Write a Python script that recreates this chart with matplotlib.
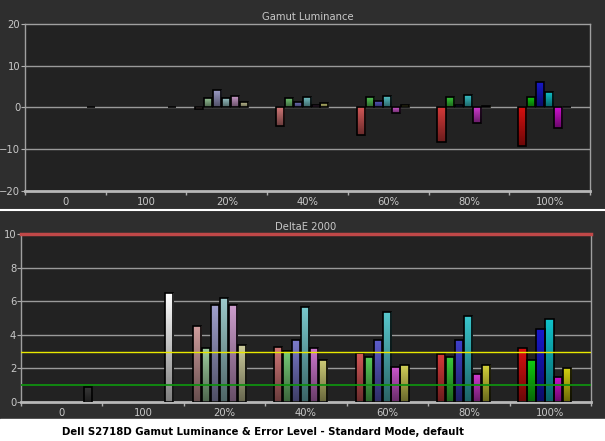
import numpy as np
import matplotlib
matplotlib.use('Agg')
import matplotlib.pyplot as plt
import matplotlib.colors as mcolors
from matplotlib.ticker import FixedLocator, NullFormatter

# Données
categories = ['0', '100', '20%', '40%', '60%', '80%', '100%']
levels = ['20%', '40%', '60%', '80%', '100%']
single_lum = [0.15, 0.1]          # 0 et 100 (noir, blanc)
lum_20 = [-0.4, 2.3, 4.1, 2.2, 2.8, 1.4]
lum_40 = [-4.4, 2.2, 1.4, 2.6, 0.7, 1.0]
lum_60 = [-6.5, 2.4, 1.6, 2.8, -1.4, 0.7]
lum_80 = [-8.2, 2.6, 0.6, 3.0, -3.6, 0.4]
lum_100 = [-9.2, 2.6, 6.0, 3.7, -4.8, 0.0]

single_de = [0.9, 6.5]
de_20 = [4.5, 3.2, 5.8, 6.2, 5.8, 3.4]
de_40 = [3.3, 3.05, 3.7, 5.65, 3.2, 2.5]
de_60 = [2.9, 2.7, 3.7, 5.35, 2.1, 2.2]
de_80 = [2.85, 2.7, 3.7, 5.1, 1.65, 2.2]
de_100 = [3.2, 2.5, 4.35, 4.95, 1.5, 2.0]

lum = [lum_20, lum_40, lum_60, lum_80, lum_100]
de = [de_20, de_40, de_60, de_80, de_100]

# couleurs
base = ['#d81010', '#10cc10', '#1818cc', '#10c4cc', '#d010d0', '#d4d010']
sat = [0.25, 0.45, 0.62, 0.78, 1.0]
grey = np.array([0.8, 0.8, 0.8])


def tint(c, s):
    rgb = np.array(mcolors.to_rgb(c))
    return tuple(rgb * s + grey * (1 - s))


single_colors = ['#3a3a3a', '#ffffff']

fig_bg = '#2e2e2e'
ax_bg = '#222222'
txt = '#c8c8c8'
grid_c = '#9a9a9a'

fig = plt.figure(figsize=(6.05, 4.41), dpi=100, facecolor=fig_bg)
ax1 = fig.add_axes([0.0413, 0.5669, 0.9339, 0.3787])
ax2 = fig.add_axes([0.0347, 0.0884, 0.9421, 0.381])

offsets = [0.16 + 0.11 * i for i in range(6)]
single_off = 0.82
bw = 0.1


def gradient_bars(ax, bars, colors):
    for patch, c in zip(bars, colors):
        h = patch.get_height()
        if h == 0:
            continue
        x0, y0, w = patch.get_x(), patch.get_y(), patch.get_width()
        lo, hi = min(y0, y0 + h), max(y0, y0 + h)
        rgb = np.array(mcolors.to_rgb(c))
        t = np.linspace(1.0, 0.5, 40)[:, None]
        img = (rgb[None, :] * t)[:, None, :]
        im = ax.imshow(img, extent=[x0, x0 + w, lo, hi], aspect='auto',
                       origin='upper', zorder=2, interpolation='bilinear')
        im.set_clip_path(patch)


def draw_panel(ax, singles, groups):
    xs = [i + single_off for i in range(2)]
    b = ax.bar(xs, singles, width=bw, facecolor='none', edgecolor='black',
               linewidth=1.2, zorder=3)
    gradient_bars(ax, b, single_colors)
    for k, vals in enumerate(groups):
        xs = [2 + k + o for o in offsets]
        cols = [tint(c, sat[k]) for c in base]
        b = ax.bar(xs, vals, width=bw, facecolor='none', edgecolor='black',
                   linewidth=1.2, zorder=3)
        gradient_bars(ax, b, cols)


def style(ax, title):
    ax.set_facecolor(ax_bg)
    ax.set_xlim(0, 7)
    ax.xaxis.set_major_locator(FixedLocator([i + 0.5 for i in range(7)]))
    ax.set_xticklabels(categories)
    ax.xaxis.set_minor_locator(FixedLocator(list(range(8))))
    ax.xaxis.set_minor_formatter(NullFormatter())
    ax.tick_params(axis='x', which='major', length=0, colors=txt, labelsize=7.2, pad=4)
    ax.tick_params(axis='x', which='minor', length=3, color='#b0b0b0', width=1)
    ax.tick_params(axis='y', length=3, color='#b0b0b0', colors=txt, labelsize=7.2, pad=0.5)
    for s in ['left', 'right', 'top']:
        ax.spines[s].set_color('#a0a0a0')
        ax.spines[s].set_linewidth(1)
    ax.spines['bottom'].set_color('#b8b8b8')
    ax.spines['bottom'].set_linewidth(2)
    ax.set_title(title, color=txt, fontsize=7.2, pad=3)


# Panneau du haut : luminance
draw_panel(ax1, single_lum, lum)
style(ax1, 'Gamut Luminance')
ax1.set_ylim(-20, 20)
ax1.set_yticks([-20, -10, 0, 10, 20])
for y in [-10, 0, 10]:
    ax1.axhline(y, color=grid_c, lw=1, zorder=1)

# Panneau du bas : DeltaE
draw_panel(ax2, single_de, de)
style(ax2, 'DeltaE 2000')
ax2.set_ylim(0, 10)
ax2.set_yticks([0, 2, 4, 6, 8, 10])
for y in [2, 4, 6, 8]:
    ax2.axhline(y, color=grid_c, lw=1, zorder=1)
ax2.axhline(10, color='#c04848', lw=2.5, zorder=5, clip_on=False)
ax2.axhline(3, color='#e8e800', lw=1, zorder=5)
ax2.axhline(1, color='#109010', lw=1.3, zorder=5)
ax2.spines['top'].set_visible(False)

# séparation blanche et bandeau de légende
fig.add_artist(plt.Line2D([0, 1], [0.5238, 0.5238], color='white', lw=1.5))
fig.add_artist(plt.Rectangle((0, 0), 1, 0.05, color='white', zorder=0))
fig.text(0.434, 0.021, 'Dell S2718D Gamut Luminance & Error Level - Standard Mode, default',
         ha='center', va='center', fontsize=7.3, fontweight='bold', color='black')

fig.savefig('out.png', dpi=100, facecolor=fig_bg)
